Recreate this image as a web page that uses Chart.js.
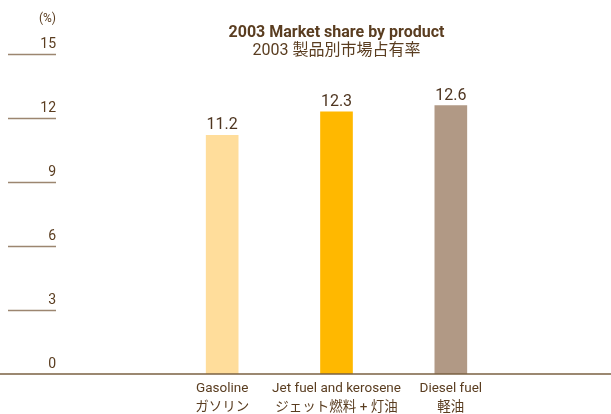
<!DOCTYPE html>
<html>
<head>
<meta charset="utf-8">
<script src="https://cdn.jsdelivr.net/npm/chart.js"></script>
<style>
  html, body { margin: 0; padding: 0; background: #fff; }
</style>
</head>
<body>
<canvas id="shareChart" width="611" height="414"></canvas>
<script>
// data
const categories = [
    ["Gasoline", "ガソリン"],
    ["Jet fuel and kerosene", "ジェット燃料 + 灯油"],
    ["Diesel fuel", "軽油"]
];
const shares = [11.2, 12.3, 12.6];
const yTicks = [0, 3, 6, 9, 12, 15];
const unitLabel = "(%)";
const barColors = ["#ffdd9b", "#ffb800", "#b19985"];

const FONT = "Roboto, 'Noto Sans CJK JP', sans-serif";
const TEXT = "#5a3d20";

// short tick rules on the left, full baseline, and value labels
const decorations = {
    id: "decorations",
    afterDraw(chart) {
        const ctx = chart.ctx;
        const y = chart.scales.y;
        ctx.save();
        ctx.font = "14px " + FONT;
        ctx.fillStyle = TEXT;
        ctx.textAlign = "right";
        ctx.textBaseline = "alphabetic";
        yTicks.forEach(t => {
            const py = Math.round(y.getPixelForValue(t));
            ctx.fillText(String(t), 56, py - 6);
            if (t > 0) {
                ctx.strokeStyle = "#9c8670";
                ctx.lineWidth = 1.5;
                ctx.beginPath();
                ctx.moveTo(8, py + 0.5);
                ctx.lineTo(56, py + 0.5);
                ctx.stroke();
            }
        });
        ctx.font = "12px " + FONT;
        ctx.fillText(unitLabel, 56, 22);

        // baseline across the whole width
        const base = Math.round(y.getPixelForValue(0));
        ctx.strokeStyle = "#7a6042";
        ctx.lineWidth = 1.6;
        ctx.beginPath();
        ctx.moveTo(0, base);
        ctx.lineTo(chart.width, base);
        ctx.stroke();

        // values above bars
        ctx.font = "16px " + FONT;
        ctx.fillStyle = "#4e3520";
        ctx.textAlign = "center";
        chart.getDatasetMeta(0).data.forEach((bar, i) => {
            ctx.fillText(shares[i].toFixed(1), bar.x, bar.y - 6);
        });
        ctx.restore();
    }
};

new Chart(document.getElementById("shareChart").getContext("2d"), {
    type: "bar",
    data: {
        labels: categories,
        datasets: [{
            data: shares,
            backgroundColor: barColors,
            borderWidth: 0,
            barThickness: 32
        }]
    },
    options: {
        responsive: false,
        animation: false,
        layout: { padding: { left: 165, right: 103, top: 0, bottom: 0 } },
        plugins: {
            legend: { display: false },
            tooltip: { enabled: false },
            title: {
                display: true,
                text: "2003 Market share by product",
                color: TEXT,
                font: { family: FONT, size: 16, weight: "bold", lineHeight: 0.8 },
                padding: { top: 27, bottom: 0 }
            },
            subtitle: {
                display: true,
                text: "2003 製品別市場占有率",
                color: TEXT,
                font: { family: FONT, size: 16, lineHeight: 0.85 },
                padding: { top: 4, bottom: -3 }
            }
        },
        scales: {
            x: {
                grid: { display: false, drawTicks: false },
                border: { display: false },
                ticks: {
                    color: TEXT,
                    font: { family: FONT, size: 13.5, lineHeight: "19px" },
                    padding: 5,
                    maxRotation: 0,
                    autoSkip: false
                },
                afterFit(scale) { scale.height = 40; }
            },
            y: {
                display: false,
                min: 0,
                max: 15
            }
        }
    },
    plugins: [decorations]
});
</script>
</body>
</html>
